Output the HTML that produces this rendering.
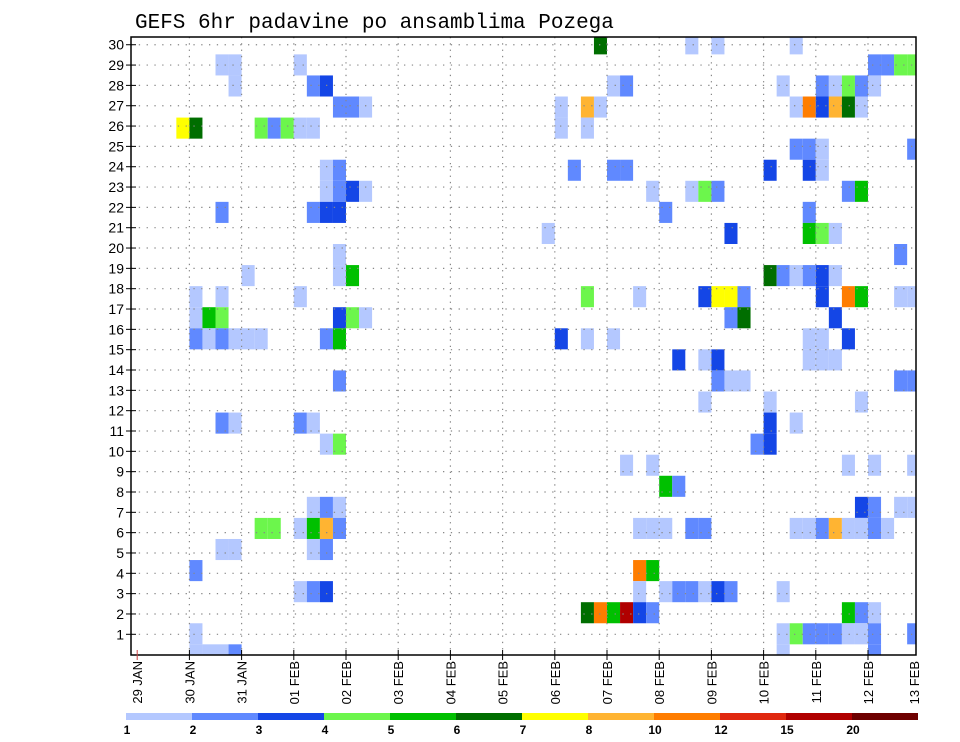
<!DOCTYPE html>
<html>
<head>
<meta charset="utf-8">
<style>
  html,body{margin:0;padding:0;background:#fff;}
  svg{display:block;}
  text{font-family:"Liberation Sans",sans-serif;fill:#000;}
</style>
</head>
<body>
<svg id="chart" width="960" height="742" viewBox="0 0 960 742">
  <text x="135" y="28" style="font-family:'Liberation Mono',monospace;font-size:21px">GEFS 6hr padavine po ansamblima Pozega</text>
  <defs><clipPath id="plotclip"><rect x="131" y="37" width="785" height="618"/></clipPath></defs>
  <g id="cells" clip-path="url(#plotclip)"></g>
  <g id="grid"></g>
  <rect x="131" y="37" width="785" height="618" fill="none" stroke="#000" stroke-width="1.5"/>
  <g id="yaxis"></g>
  <g id="xaxis"></g>
  <g id="legend"></g>
</svg>
<script>
// ---- data: 6-hour step index (0 = 29 JAN 00Z), ensemble member row, precipitation (mm) ----
const steps = [
 6,7,12, 7,13,14, 15,16,17, 3,4,9,10,11,12,13, 14,15, 14,15,16,17, 6,13,14,15, 15,
 8,15,16, 4,6,12, 4,5,6,15,16,17, 4,5,6,7,8,9,14,15, 15, 6,7,12,13, 14,15,
 13,14,15, 9,10,12,13,14,15, 6,7,13,14, 4, 12,13,14, 4, 4,5,6,7,
 35,42,44, 36,37, 32,34,35, 32,34, 33,36,37, 39,42,43,44, 40, 31,45,
 34,38,43,44,45,46, 45,46, 32,34,36, 41,43,44, 44,45,46, 43, 37,39, 40,41,
 38,39,40,42,43, 38,39, 38,40,41,42,43,44,45, 34,35,36,37,38,39,
 50, 56,57,58,59, 49,52,53,54,55,56, 50,51,52,53,54,55, 50,51,52,59, 48,51,52,
 54,55, 51, 51,52,53, 58, 48,49,50,51,52,53, 52,54,55,58,59, 53, 51,52,54,
 51,52,53, 58,59, 48,55, 48,50, 47,48, 54,56,59, 55,56,58,59,
 50,51,52,53,54,55,56,57, 49, 54,55,56, 49,50,51,52,53,54,55,56,59, 49,56
];
const members = [
 28,28,28, 27,27,27, 26,26,26, 25,25,25,25,25,25,25, 23,23, 22,22,22,22, 21,21,21,21, 19,
 18,18,18, 17,17,17, 16,16,16,16,16,16, 15,15,15,15,15,15,15,15, 13, 11,11,11,11, 10,10,
 7,7,7, 6,6,6,6,6,6, 5,5,5,5, 4, 3,3,3, 1, 0,0,0,0,
 29,29,29, 27,27, 26,26,26, 25,25, 23,23,23, 22,22,22,22, 21, 20,20,
 17,17,17,17,17,17, 16,16, 15,15,15, 14,14,14, 13,13,13, 12, 9,9, 8,8,
 6,6,6,6,6, 4,4, 3,3,3,3,3,3,3, 2,2,2,2,2,2,
 29, 28,28,28,28, 27,27,27,27,27,27, 26,26,26,26,26,26, 24,24,24,24, 23,23,23,
 22,22, 21, 20,20,20, 19, 18,18,18,18,18,18, 17,17,17,17,17, 16, 15,15,15,
 14,14,14, 13,13, 12,12, 11,11, 10,10, 9,9,9, 7,7,7,7,
 6,6,6,6,6,6,6,6, 3, 2,2,2, 1,1,1,1,1,1,1,1,1, 0,0
];
const precip = [
 1.5,1.5,1.5, 1.5,2.5,3.5, 2.5,2.5,1.5, 7.5,6.5,4.5,2.5,4.5,1.5,1.5, 1.5,2.5, 1.5,2.5,3.5,1.5, 2.5,2.5,3.5,3.5, 1.5,
 1.5,1.5,5.5, 1.5,1.5,1.5, 1.5,5.5,4.5,3.5,4.5,1.5, 2.5,1.5,2.5,1.5,1.5,1.5,2.5,5.5, 2.5, 2.5,1.5,2.5,1.5, 1.5,4.5,
 1.5,2.5,1.5, 4.5,4.5,1.5,5.5,9,2.5, 1.5,1.5,1.5,2.5, 2.5, 1.5,2.5,3.5, 1.5, 1.5,1.5,1.5,2.5,
 6.5,1.5,1.5, 1.5,2.5, 1.5,9,1.5, 1.5,1.5, 2.5,2.5,2.5, 1.5,1.5,4.5,2.5, 2.5, 1.5,3.5,
 4.5,1.5,3.5,7.5,7.5,2.5, 2.5,6.5, 3.5,1.5,1.5, 3.5,1.5,3.5, 2.5,1.5,1.5, 1.5, 1.5,1.5, 5.5,2.5,
 1.5,1.5,1.5,2.5,2.5, 11,5.5, 1.5,1.5,2.5,2.5,1.5,3.5,2.5, 6.5,11,5.5,17,3.5,2.5,
 1.5, 2.5,2.5,4.5,4.5, 1.5,2.5,1.5,4.5,2.5,1.5, 1.5,11,3.5,9,6.5,1.5, 2.5,2.5,1.5,2.5, 3.5,3.5,1.5,
 2.5,5.5, 2.5, 5.5,4.5,1.5, 2.5, 6.5,2.5,1.5,2.5,3.5,1.5, 3.5,11,5.5,1.5,1.5, 3.5, 1.5,1.5,3.5,
 1.5,1.5,1.5, 2.5,2.5, 1.5,1.5, 3.5,1.5, 2.5,3.5, 1.5,1.5,1.5, 3.5,2.5,1.5,1.5,
 1.5,1.5,2.5,9,1.5,1.5,2.5,1.5, 1.5, 5.5,2.5,1.5, 1.5,4.5,2.5,2.5,2.5,1.5,1.5,2.5,2.5, 1.5,2.5
];
const legendBreaks = [1,2,3,4,5,6,7,8,10,12,15,20];
const legendColors = ["#b4c8ff","#6089ff","#1446e6","#6cf64c","#00c000","#006e00","#ffff00","#ffb432","#ff7d00","#e0280f","#b00000","#6e0000"];
const yTickLabels = [1,2,3,4,5,6,7,8,9,10,11,12,13,14,15,16,17,18,19,20,21,22,23,24,25,26,27,28,29,30];
const xTickLabels = ["29 JAN","30 JAN","31 JAN","01 FEB","02 FEB","03 FEB","04 FEB","05 FEB","06 FEB","07 FEB","08 FEB","09 FEB","10 FEB","11 FEB","12 FEB","13 FEB"];

// ---- scales ----
const NS = "http://www.w3.org/2000/svg";
const stepW = 13.05, x0 = 137.2;
function xStep(k){ return x0 + k*stepW; }
function xDay(d){ return x0 + d*4*stepW; }
const cellH = 21.07;
function yMember(m){ return 665.4 - cellH*(m+1); }
function yLabel(r){ return 634.3 - 20.33*(r-1); }
function colorFor(v){
  let idx = -1;
  for (let i=0;i<legendBreaks.length;i++){ if (v >= legendBreaks[i]) idx = i; }
  return idx < 0 ? null : legendColors[idx];
}
function mk(tag, attrs, parent){
  const e = document.createElementNS(NS, tag);
  for (const k in attrs) e.setAttribute(k, attrs[k]);
  parent.appendChild(e); return e;
}

// ---- cells ----
const cellsG = document.getElementById("cells");
for (let i=0;i<steps.length;i++){
  const c = colorFor(precip[i]); if (!c) continue;
  const r = mk("rect", {x: xStep(steps[i]), y: yMember(members[i]), width: stepW, height: cellH, fill: c}, cellsG);
  
  
}

// ---- grid ----
const gridG = document.getElementById("grid");
for (const r of yTickLabels){
  const y = yLabel(r);
  const l = mk("line", {x1:131, x2:916, y1:y, y2:y, stroke:"#888", "stroke-width":1.2, "stroke-dasharray":"1.3 6.5"}, gridG);
  
  
}
for (let d=1; d<xTickLabels.length-1; d++){
  const x = xDay(d);
  const l = mk("line", {x1:x, x2:x, y1:37, y2:655, stroke:"#888", "stroke-width":1.2, "stroke-dasharray":"1.3 5"}, gridG);
  
  
}

// ---- y axis ----
const yG = document.getElementById("yaxis");
for (const r of yTickLabels){
  const y = yLabel(r);
  const t = mk("line", {x1:126, x2:136, y1:y, y2:y, stroke:"#000", "stroke-width":1}, yG);
  
  
  const tx = mk("text", {x:124, y:y+5, "text-anchor":"end", "font-size":"14"}, yG);
  tx.textContent = r;
  
  
}

// ---- x axis ----
const xG = document.getElementById("xaxis");
for (let d=0; d<xTickLabels.length; d++){
  const x = xDay(d);
  if (x <= 917){
    const t = mk("line", {x1:x, x2:x, y1:650, y2:660, stroke: d===0 ? "#c44" : "#000", "stroke-width":1}, xG);
    
    
  }
  const lx = Math.min(x, 914) + 5;
  const tx = mk("text", {x:lx, y:661, "text-anchor":"end", "font-size":"13", transform:`rotate(-90 ${lx} 661)`}, xG);
  tx.textContent = xTickLabels[d];
  
  
}

// ---- legend ----
const lg = document.getElementById("legend");
const segW = 66, lx0 = 126;
for (let i=0;i<legendColors.length;i++){
  const r = mk("rect", {x: lx0 + i*segW, y: 713, width: segW, height: 7, fill: legendColors[i]}, lg);
  
  
  const t = mk("text", {x: lx0 + i*segW + 1, y: 734, "text-anchor":"middle", "font-size":"12", "font-weight":"bold"}, lg);
  t.textContent = legendBreaks[i];
  
  
}
</script>
</body>
</html>
